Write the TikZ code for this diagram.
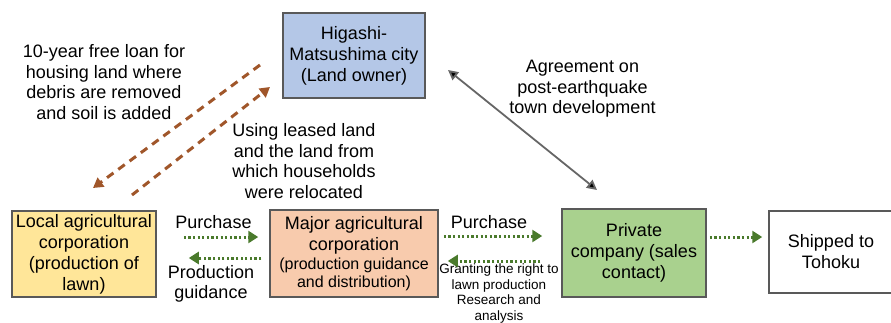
\documentclass[tikz,border=0pt]{standalone}
\usepackage{fontspec}
\setmainfont{Liberation Sans}
\usetikzlibrary{arrows.meta}
\definecolor{bluef}{HTML}{B4C7E7}
\definecolor{yellowf}{HTML}{FFE699}
\definecolor{orangef}{HTML}{F8CBAD}
\definecolor{greenf}{HTML}{A9D18E}
\definecolor{boxline}{HTML}{595959}
\definecolor{dotgreen}{HTML}{4A7A2C}
\definecolor{brownarr}{HTML}{A0562A}
\tikzset{
  box/.style={draw=boxline, line width=1.5pt, align=center, inner sep=0pt, font=\fontsize{18}{21}\selectfont},
  lbl/.style={align=center, inner sep=0pt, font=\fontsize{18}{20.5}\selectfont},
  smalllbl/.style={align=center, inner sep=0pt, font=\fontsize{13.5}{15.4}\selectfont},
  greenarrow/.style={draw=dotgreen, line width=3pt, dash pattern=on 2.2pt off 2.4pt, -{Triangle[length=10pt,width=12pt]}},
  brownarrow/.style={draw=brownarr, line width=3pt, dash pattern=on 8pt off 6pt, -{Triangle[length=10pt,width=11pt]}},
  blackarrow/.style={draw=black!60, line width=1.8pt, {Triangle[length=10pt,width=10pt,fill=black]}-{Triangle[length=10pt,width=10pt,fill=black]}}
}
\begin{document}
\begin{tikzpicture}[x=1pt,y=-1pt]
\useasboundingbox (0,0) rectangle (891,322);
% boxes
\node[box, fill=bluef, minimum width=142pt, minimum height=85pt] (city) at (354,55.5) {Higashi-\\Matsushima city\\(Land owner)};
\node[box, fill=yellowf, minimum width=144pt, minimum height=86pt] (local) at (84,254) {Local agricultural\\corporation\\(production of\\lawn)};
\node[box, fill=orangef, minimum width=168pt, minimum height=87pt] (major) at (354,253.5) {Major agricultural\\corporation\\[-2pt]{\fontsize{16}{18}\selectfont (production guidance}\\[-3pt]{\fontsize{16}{18}\selectfont and distribution)}};
\node[box, fill=greenf, minimum width=144pt, minimum height=88pt] (private) at (634,253) {Private\\company (sales\\contact)};
\node[box, fill=white, minimum width=124pt, minimum height=82pt] (ship) at (831,252) {Shipped to\\Tohoku};
% labels
\node[lbl] (loanlbl) at (104,82) {10-year free loan for\\housing land where\\debris are removed\\and soil is added};
\node[lbl] (leaselbl) at (304,161) {Using leased land\\and the land from\\which households\\were relocated};
\node[lbl] (agreelbl) at (582.5,89) {Agreement on\\post-earthquake\\town development};
\node[lbl] (pur1) at (213.5,222) {Purchase};
\node[lbl] (guid) at (211,284) {Production\\guidance};
\node[lbl] (pur2) at (489,222) {Purchase};
\node[smalllbl] (grant) at (499,293.5) {Granting the right to\\lawn production\\Research and\\analysis};
% coordinates for free ends
\coordinate (b1s) at (260,65);
\coordinate (b1e) at (93,188);
\coordinate (b2s) at (132,195);
\coordinate (b2e) at (270,87);
\coordinate (k1) at (448,70);
\coordinate (k2) at (597,190);
% green arrows
\draw[greenarrow, shorten <=27pt, shorten >=11pt] ([yshift=17pt]local.east) -- ([yshift=16.5pt]major.west);
\draw[greenarrow, shorten <=8pt, shorten >=32pt] ([yshift=-4.5pt]major.west) -- ([yshift=-4pt]local.east);
\draw[greenarrow, shorten <=5pt, shorten >=19pt] ([yshift=17.5pt]major.east) -- ([yshift=17pt]private.west);
\draw[greenarrow, shorten <=21pt, shorten >=9pt] ([yshift=-8pt]private.west) -- ([yshift=-7.5pt]major.east);
\draw[greenarrow, shorten <=3pt, shorten >=6pt] ([yshift=16pt]private.east) -- ([yshift=15pt]ship.west);
% brown arrows
\draw[brownarrow] (b1s) -- (b1e);
\draw[brownarrow] (b2s) -- (b2e);
% black arrow
\draw[blackarrow] (k1) -- (k2);
\end{tikzpicture}
\end{document}
